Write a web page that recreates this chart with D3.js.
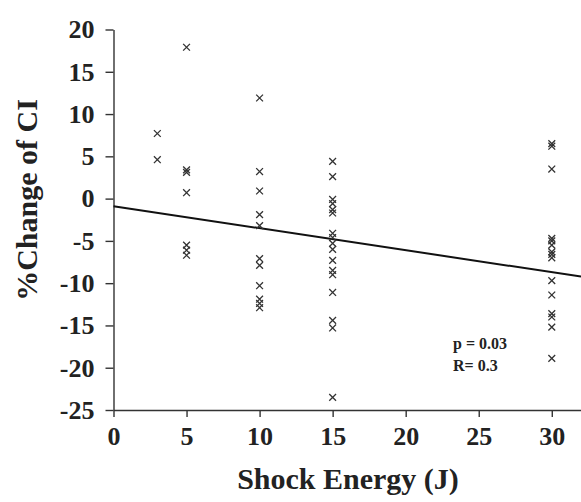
<!DOCTYPE html>
<html>
<head>
<meta charset="utf-8">
<script src="https://cdn.jsdelivr.net/npm/d3@7"></script>
<style>
  html, body { margin: 0; padding: 0; background: #fff; }
  svg { display: block; }
  text { font-family: "Liberation Serif", "Times New Roman", serif; font-weight: bold; fill: #222; }
</style>
</head>
<body>
<svg id="chart" width="581" height="502"></svg>
<script>
// данные: энергия разряда (Дж) и % изменения CI
const energyLevels = [3, 5, 10, 15, 30];
const ci3  = [7.7, 4.6];
const ci5  = [17.9, 3.4, 3.1, 0.7, -5.5, -6.1, -6.7];
const ci10 = [11.9, 3.2, 0.9, -1.9, -3.2, -7.1, -7.9, -10.3, -11.9, -12.4, -12.9];
const ci15 = [4.4, 2.6, -0.1, -0.6, -1.3, -1.7, -4.1, -4.6, -5.3, -6.0, -7.3, -8.5, -9.0, -11.1, -14.4, -15.3, -23.5];
const ci30 = [6.5, 6.2, 3.5, -4.7, -5.0, -5.5, -6.3, -6.6, -7.0, -9.7, -11.4, -13.6, -14.0, -15.2, -18.9];
const xTicks = [0, 5, 10, 15, 20, 25, 30];
const yTicks = [-25, -20, -15, -10, -5, 0, 5, 10, 15, 20];
// линия регрессии
const fitIntercept = -0.9;
const fitSlope = -0.26;
const statLines = ["p = 0.03", "R= 0.3"];

const points = [];
[ci3, ci5, ci10, ci15, ci30].forEach((arr, i) => {
    arr.forEach(v => points.push({x: energyLevels[i], y: v}));
});

const svg = d3.select("#chart");

const scaleX = d3.scaleLinear().domain([0, 32]).range([113.5, 581]);
const scaleY = d3.scaleLinear().domain([-25, 20]).range([410, 29.5]);

// обычный дефис вместо минуса, как в оригинале
const plainFormat = d => String(d);

// ось X
const axisX = svg.append("g")
    .attr("transform", `translate(0, ${scaleY(-25)})`)
    .call(d3.axisBottom(scaleX).tickValues(xTicks).tickFormat(plainFormat)
        .tickSize(7).tickPadding(10).tickSizeOuter(0));
axisX.select(".domain").attr("stroke", "#333").attr("stroke-width", 1.4);
axisX.selectAll(".tick line").attr("stroke", "#333").attr("stroke-width", 1.4);
axisX.selectAll("text").attr("font-size", 26).attr("font-family", null).attr("fill", "#222");

// ось Y
const axisY = svg.append("g")
    .attr("transform", `translate(${scaleX(0)}, 0)`)
    .call(d3.axisLeft(scaleY).tickValues(yTicks).tickFormat(plainFormat)
        .tickSize(8).tickPadding(11).tickSizeOuter(0));
axisY.select(".domain").attr("stroke", "#333").attr("stroke-width", 1.4);
axisY.selectAll(".tick line").attr("stroke", "#333").attr("stroke-width", 1.4);
axisY.selectAll("text").attr("font-size", 26).attr("font-family", null).attr("fill", "#222");

// подписи осей
svg.append("text")
    .attr("x", 348).attr("y", 489)
    .attr("text-anchor", "middle")
    .attr("font-size", 30)
    .text("Shock Energy (J)");

svg.append("text")
    .attr("transform", `translate(37, 200) rotate(-90)`)
    .attr("text-anchor", "middle")
    .attr("font-size", 30)
    .text("%Change of CI");

// линия тренда
const line = d3.line().x(d => scaleX(d)).y(d => scaleY(fitIntercept + fitSlope * d));
svg.append("path")
    .datum([0, 32])
    .attr("fill", "none")
    .attr("stroke", "#111")
    .attr("stroke-width", 2)
    .attr("d", line);

// точки-крестики
const r = 3.4;
svg.append("g").selectAll("path")
    .data(points)
    .enter()
    .append("path")
    .attr("d", d => {
        const cx = scaleX(d.x), cy = scaleY(d.y);
        return `M${cx - r},${cy - r}L${cx + r},${cy + r}M${cx - r},${cy + r}L${cx + r},${cy - r}`;
    })
    .attr("stroke", "#333")
    .attr("stroke-width", 1.3)
    .attr("fill", "none");

// статистика
svg.append("g").selectAll("text")
    .data(statLines)
    .enter()
    .append("text")
    .attr("x", 453)
    .attr("y", (d, i) => 349 + i * 22)
    .attr("font-size", 16)
    .text(d => d);
</script>
</body>
</html>
